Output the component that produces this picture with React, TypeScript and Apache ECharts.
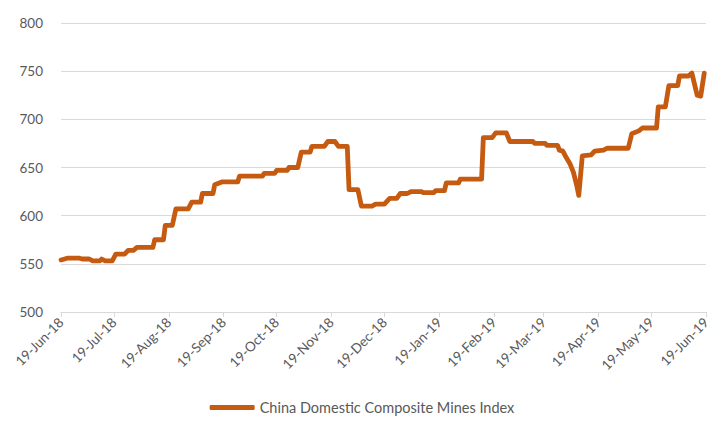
import React, { useEffect, useRef } from "react";
import * as echarts from "echarts";

const dates: string[] = [
  "2018-06-19", "2018-06-23", "2018-06-29", "2018-07-01", "2018-07-05", "2018-07-07", "2018-07-11", "2018-07-12",
  "2018-07-14", "2018-07-18", "2018-07-20", "2018-07-25", "2018-07-27", "2018-07-30", "2018-08-01", "2018-08-10",
  "2018-08-11", "2018-08-16", "2018-08-17", "2018-08-21", "2018-08-23", "2018-08-30", "2018-09-01", "2018-09-06",
  "2018-09-07", "2018-09-13", "2018-09-14", "2018-09-18", "2018-09-27", "2018-09-28", "2018-10-11", "2018-10-12",
  "2018-10-18", "2018-10-19", "2018-10-25", "2018-10-26", "2018-10-31", "2018-11-02", "2018-11-07", "2018-11-08",
  "2018-11-15", "2018-11-17", "2018-11-21", "2018-11-23", "2018-11-28", "2018-11-29", "2018-12-04", "2018-12-06",
  "2018-12-12", "2018-12-14", "2018-12-19", "2018-12-22", "2018-12-26", "2018-12-28", "2019-01-01", "2019-01-03",
  "2019-01-09", "2019-01-10", "2019-01-16", "2019-01-17", "2019-01-22", "2019-01-23", "2019-01-30", "2019-01-31",
  "2019-02-12", "2019-02-13", "2019-02-18", "2019-02-20", "2019-02-26", "2019-02-28", "2019-03-13", "2019-03-14",
  "2019-03-20", "2019-03-21", "2019-03-27", "2019-03-28", "2019-03-30", "2019-04-01", "2019-04-03", "2019-04-05",
  "2019-04-07", "2019-04-08", "2019-04-10", "2019-04-15", "2019-04-17", "2019-04-22", "2019-04-24", "2019-05-06",
  "2019-05-08", "2019-05-12", "2019-05-14", "2019-05-22", "2019-05-23", "2019-05-27", "2019-05-29", "2019-06-03",
  "2019-06-04", "2019-06-09", "2019-06-11", "2019-06-14", "2019-06-16", "2019-06-18",
];

const indexValues: number[] = [
  554, 556, 556, 555, 555, 553, 553, 555,
  553, 553, 560, 560, 564, 564, 567, 567,
  575, 575, 590, 590, 607, 607, 614, 614,
  623, 623, 632, 635, 635, 641, 641, 644,
  644, 647, 647, 650, 650, 666, 666, 672,
  672, 677, 677, 672, 672, 627, 627, 610,
  610, 612, 612, 618, 618, 623, 623, 625,
  625, 624, 624, 626, 626, 634, 634, 638,
  638, 681, 681, 686, 686, 677, 677, 675,
  675, 673, 673, 668, 667, 660, 654, 645,
  630, 621, 662, 663, 667, 668, 670, 670,
  685, 688, 691, 691, 713, 713, 735, 735,
  745, 745, 748, 725, 724, 748,
];

const tickDates: string[] = [
  "2018-06-19", "2018-07-19", "2018-08-19", "2018-09-19", "2018-10-19", "2018-11-19", "2018-12-19",
  "2019-01-19", "2019-02-19", "2019-03-19", "2019-04-19", "2019-05-19", "2019-06-19",
];

const yTicks = { min: 500, max: 800, interval: 50 };
const seriesName = "China Domestic Composite Mines Index";
const MONTHS = ["Jan", "Feb", "Mar", "Apr", "May", "Jun", "Jul", "Aug", "Sep", "Oct", "Nov", "Dec"];

function toTs(s: string): number {
  const [y, m, d] = s.split("-").map(Number);
  return Date.UTC(y, m - 1, d);
}

function fmt(v: number): string {
  const d = new Date(v);
  const dd = d.getUTCDate();
  const yy = String(d.getUTCFullYear() % 100).padStart(2, "0");
  return `${dd}-${MONTHS[d.getUTCMonth()]}-${yy}`;
}

export default function App() {
  const ref = useRef<HTMLDivElement>(null);
  useEffect(() => {
    if (!ref.current) return;
    const chart = echarts.init(ref.current, undefined, { renderer: "svg" });
    const tickTs = tickDates.map(toTs);
    const font = "Lato, 'Liberation Sans', sans-serif";
    chart.setOption({
      animation: false,
      textStyle: { fontFamily: font },
      grid: { left: 61, right: 18, top: 23, bottom: 114, containLabel: false },
      legend: {
        bottom: 6,
        left: "center",
        data: [seriesName],
        icon: "roundRect",
        itemWidth: 45,
        itemHeight: 5,
        itemGap: 6,
        textStyle: { color: "#595959", fontSize: 14.5, fontFamily: font },
      },
      xAxis: {
        type: "value",
        min: tickTs[0],
        max: tickTs[tickTs.length - 1],
        axisLine: { show: true, lineStyle: { color: "#d9d9d9", width: 1 } },
        axisTick: { show: true, length: 5, lineStyle: { color: "#d9d9d9" }, customValues: tickTs },
        axisLabel: {
          customValues: tickTs,
          rotate: 45,
          color: "#595959",
          fontSize: 13.5,
          margin: 8,
          formatter: (v: number) => fmt(v),
        },
        splitLine: { show: false },
      },
      yAxis: {
        type: "value",
        min: yTicks.min,
        max: yTicks.max,
        interval: yTicks.interval,
        axisLine: { show: false },
        axisTick: { show: false },
        axisLabel: { color: "#595959", fontSize: 13.5, margin: 18 },
        splitLine: { lineStyle: { color: "#d9d9d9", width: 1 } },
      },
      series: [
        {
          name: seriesName,
          type: "line",
          data: dates.map((d, i) => [toTs(d), indexValues[i]]),
          symbol: "none",
          lineStyle: { color: "#c55a11", width: 4.8, cap: "round", join: "round" },
          itemStyle: { color: "#c55a11" },
        },
      ],
    });
    return () => chart.dispose();
  }, []);
  return <div ref={ref} style={{ width: 724, height: 426, margin: -8 }} />;
}
